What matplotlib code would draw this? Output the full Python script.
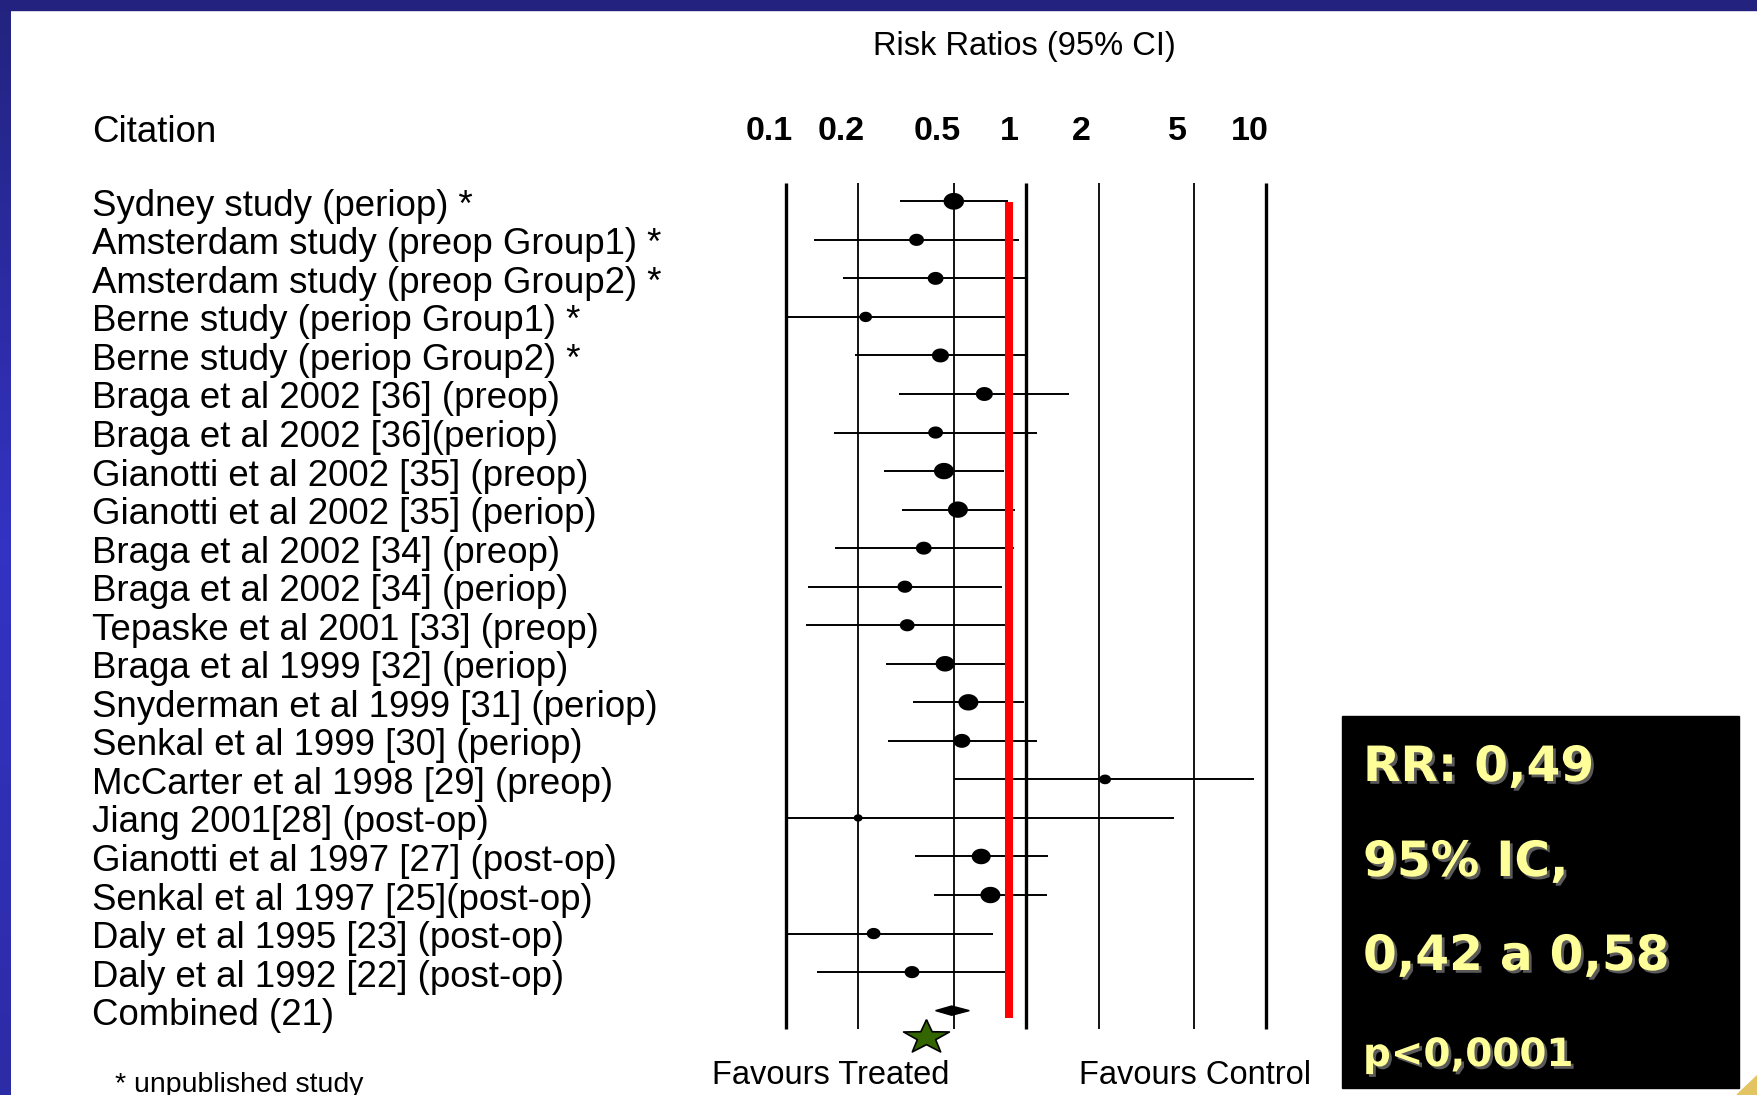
import numpy as np
import matplotlib
matplotlib.use('Agg')
import matplotlib.pyplot as plt
import matplotlib.transforms as mtransforms
import matplotlib.patheffects as pe
from matplotlib.path import Path
from matplotlib.patches import Polygon, Rectangle
from matplotlib.colors import LinearSegmentedColormap

# study data (risk ratio, 95% CI, relative weight)
studies = [
    'Sydney study (periop) *',
    'Amsterdam study (preop Group1) *',
    'Amsterdam study (preop Group2) *',
    'Berne study (periop Group1) *',
    'Berne study (periop Group2) *',
    'Braga et al 2002 [36] (preop)',
    'Braga et al 2002 [36](periop)',
    'Gianotti et al 2002 [35] (preop)',
    'Gianotti et al 2002 [35] (periop)',
    'Braga et al 2002 [34] (preop)',
    'Braga et al 2002 [34] (periop)',
    'Tepaske et al 2001 [33] (preop)',
    'Braga et al 1999 [32] (periop)',
    'Snyderman et al 1999 [31] (periop)',
    'Senkal et al 1999 [30] (periop)',
    'McCarter et al 1998 [29] (preop)',
    'Jiang 2001[28] (post-op)',
    'Gianotti et al 1997 [27] (post-op)',
    'Senkal et al 1997 [25](post-op)',
    'Daly et al 1995 [23] (post-op)',
    'Daly et al 1992 [22] (post-op)',
]
rr = [0.50, 0.35, 0.42, 0.215, 0.44, 0.67, 0.42, 0.455, 0.52, 0.375, 0.313,
      0.32, 0.46, 0.575, 0.54, 2.13, 0.20, 0.65, 0.71, 0.232, 0.335]
ci_low = [0.30, 0.131, 0.173, 0.10, 0.194, 0.296, 0.158, 0.255, 0.304, 0.16, 0.124,
          0.121, 0.26, 0.338, 0.267, 0.50, 0.10, 0.345, 0.415, 0.10, 0.135]
ci_high = [0.84, 0.93, 0.99, 0.85, 0.99, 1.51, 1.11, 0.81, 0.90, 0.89, 0.795,
           0.84, 0.84, 0.98, 1.11, 8.9, 4.13, 1.23, 1.22, 0.73, 0.84]
weights = [4.2, 2.2, 2.5, 1.6, 2.9, 2.9, 2.2, 4.0, 4.0, 2.5, 2.2,
           2.2, 3.6, 4.0, 2.9, 1.4, 0.8, 3.6, 4.0, 1.9, 2.2]

combined_label = 'Combined (21)'
combined_rr = 0.49
combined_low = 0.42
combined_high = 0.58

tick_values = [0.1, 0.2, 0.5, 1, 2, 5, 10]
tick_labels = ['0.1', '0.2', '0.5', '1', '2', '5', '10']
thick_ticks = [0.1, 1, 10]
ref_value = 0.85

box_lines = ['RR: 0,49', '95% IC,', '0,42 a 0,58', 'p<0,0001']

W, H = 1758, 1095
fig = plt.figure(figsize=(W / 100, H / 100), dpi=100)
fig.patch.set_facecolor('white')


def fx(x):
    return x / W


def fy(y):
    return 1 - y / H


# slide frame
bg = fig.add_axes([0, 0, 1, 1])
frame_cmap = LinearSegmentedColormap.from_list('frame', ['#23237f', '#3333c4', '#2c2ca6'])
bg.imshow(np.linspace(0, 1, 256).reshape(-1, 1), cmap=frame_cmap,
          extent=(0, 11, H, 0), aspect='auto')
bg.add_patch(Rectangle((0, 0), W, 9.5, color='#23237f'))
bg.add_patch(Rectangle((1342, 716), 397, 372, color='black'))
bg.add_patch(Polygon([(1737, 1095), (1758, 1075), (1758, 1095)], color='#e2c462'))
bg.set_xlim(0, W)
bg.set_ylim(H, 0)
bg.axis('off')

# forest plot axes: log x scale, one row per study
decade_px = 240.35
x01_px = 785.8
row0_px = 201.3
row_px = 38.54
ax_l, ax_r, ax_t, ax_b = 700, 1300, 150, 1060
ax = fig.add_axes([fx(ax_l), fy(ax_b), (ax_r - ax_l) / W, (ax_b - ax_t) / H])
ax.set_xscale('log')
ax.set_xlim(10 ** (-1 + (ax_l - x01_px) / decade_px), 10 ** (-1 + (ax_r - x01_px) / decade_px))
ax.set_ylim((ax_b - row0_px) / row_px, (ax_t - row0_px) / row_px)
ax.axis('off')


def row_of(y_px):
    return (y_px - row0_px) / row_px


for v in tick_values:
    ax.plot([v, v], [row_of(183), row_of(1029)], color='black',
            lw=2.4 if v in thick_ticks else 1.3, solid_capstyle='butt', zorder=1)

rows = np.arange(len(studies))
ax.hlines(rows, ci_low, ci_high, color='black', lw=1.4, zorder=2)

theta = np.linspace(0, 2 * np.pi, 61)
ellipse = Path(np.column_stack([np.cos(theta), 0.82 * np.sin(theta)]))
ax.scatter(rr, rows, s=np.array(weights) * 51.8, marker=ellipse,
           color='black', linewidths=0, zorder=3)

yc = len(studies)
ax.add_patch(Polygon([(combined_low, yc), (combined_rr, yc - 0.12),
                      (combined_high, yc), (combined_rr, yc + 0.12)],
                     closed=True, color='black', zorder=3))

ax.plot([ref_value, ref_value], [row_of(202), row_of(1018)], color='#ff0000',
        lw=5.8, solid_capstyle='butt', zorder=4)

# tick labels above the plot (shifted a little left, as on the slide)
shift = mtransforms.ScaledTranslation(-17 / 100, 0, fig.dpi_scale_trans)
for v, lab in zip(tick_values, tick_labels):
    ax.text(v, row_of(132), lab, transform=ax.transData + shift, ha='center', va='center',
            fontsize=24.5, fontweight='bold', family='Liberation Sans', clip_on=False)

# green star under the combined estimate
ang = np.pi / 2 + np.arange(11) * np.pi / 5
rad = np.where(np.arange(11) % 2 == 0, 1.0, 0.4)
star = Path(np.column_stack([rad * np.cos(ang), 0.74 * rad * np.sin(ang)]))
bg.scatter([926], [1037], s=33 ** 2, marker=star, color='#336600',
           edgecolors='black', linewidths=1.2, zorder=5)

# text
font = 'Liberation Sans'
lab_dy = 5
fig.text(fx(1024), fy(46), 'Risk Ratios (95% CI)', ha='center', va='center',
         fontsize=23.5, family=font)
fig.text(fx(92), fy(132), 'Citation', ha='left', va='center', fontsize=26.4, family=font)
for i, name in enumerate(studies + [combined_label]):
    fig.text(fx(92), fy(row0_px + i * row_px + lab_dy), name, ha='left', va='center',
             fontsize=26.4, family=font)
fig.text(fx(831), fy(1075), 'Favours Treated', ha='center', va='center',
         fontsize=23.5, family=font)
fig.text(fx(1195), fy(1075), 'Favours Control', ha='center', va='center',
         fontsize=23.5, family=font)
fig.text(fx(115), fy(1085), '* unpublished study', ha='left', va='center',
         fontsize=20.5, family=font)

shadow = [pe.withSimplePatchShadow(offset=(2, -2), shadow_rgbFace='#5a5a5a', alpha=1.0)]
box_y = [767, 862, 956, 1055]
box_size = [35, 35, 35, 28]
for txt, y, sz in zip(box_lines, box_y, box_size):
    fig.text(fx(1363), fy(y), txt, ha='left', va='center', fontsize=sz,
             fontweight='bold', family='DejaVu Sans', color='#ffff99', path_effects=shadow)

fig.savefig('out.png', dpi=100)
